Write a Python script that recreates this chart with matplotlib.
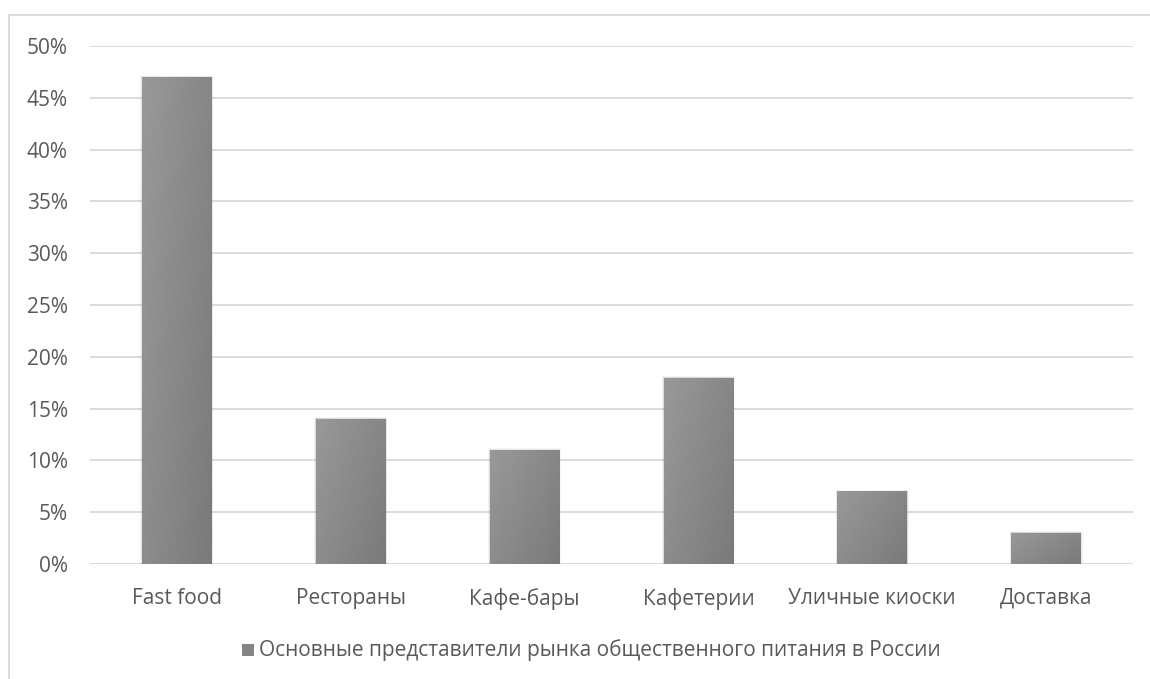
import numpy as np
import matplotlib
matplotlib.use('Agg')
import matplotlib.pyplot as plt
from matplotlib.patches import Rectangle
from matplotlib.ticker import FuncFormatter

categories = ['Fast food', 'Рестораны', 'Кафе-бары', 'Кафетерии',
              'Уличные киоски', 'Доставка']
shares = [47, 14, 11, 18, 7, 3]
series_name = 'Основные представители рынка общественного питания в России'
y_ticks = [0, 5, 10, 15, 20, 25, 30, 35, 40, 45, 50]

text_color = '#595959'
grid_color = '#d9d9d9'
plt.rcParams['font.family'] = ['Open Sans', 'DejaVu Sans']

fig = plt.figure(figsize=(11.5, 6.79), dpi=100)
ax = fig.add_axes([90 / 1150, 1 - 564 / 679, 1043 / 1150, 518 / 679])

# Outer chart frame (runs off the right and bottom edges)
frame = Rectangle((9 / 1150, -0.05), 1.2, 1 - 15 / 679 + 0.05,
                  transform=fig.transFigure, fill=False,
                  edgecolor=grid_color, linewidth=1.3, zorder=0)
fig.patches.append(frame)

x = np.arange(len(categories))
width = 0.40

# Grid
for t in y_ticks:
    ax.axhline(t, color=grid_color, linewidth=1.3, zorder=0)

# Gradient fill: lighter on the upper-left, darker lower-right
gx = np.linspace(0, 1, 64)
gy = np.linspace(0, 1, 256)
GX, GY = np.meshgrid(gx, gy)
grad = 0.6 * GX + 0.4 * GY
cmap = matplotlib.colors.LinearSegmentedColormap.from_list(
    'bar', ['#999999', '#7a7a7a'])

for xi, v in zip(x, shares):
    # soft shadow
    for k, a in zip([0.010, 0.006, 0.003], [0.04, 0.05, 0.06]):
        sh = Rectangle((xi - width / 2 - k, 0), width + 2 * k, v + k * 15,
                       facecolor='black', alpha=a, edgecolor='none', zorder=1)
        ax.add_patch(sh)
    bar = ax.bar(xi, v, width=width, color='#888888', linewidth=0, zorder=2)[0]
    im = ax.imshow(grad, cmap=cmap, aspect='auto', origin='upper',
                   extent=(xi - width / 2, xi + width / 2, 0, v), zorder=3)
    im.set_clip_path(bar)

ax.set_xlim(-0.5, len(categories) - 0.5)
ax.set_ylim(0, 50)

for s in ax.spines.values():
    s.set_visible(False)

ax.set_yticks(y_ticks)
ax.yaxis.set_major_formatter(FuncFormatter(lambda v, p: '%d%%' % v))
ax.set_xticks(x)
ax.set_xticklabels(categories)
ax.tick_params(axis='both', length=0, colors=text_color, labelsize=15)
ax.tick_params(axis='y', pad=16)
ax.tick_params(axis='x', pad=17)

# Legend
fig.patches.append(Rectangle((242 / 1150, 1 - 656 / 679), 12 / 1150, 12 / 679,
                             transform=fig.transFigure, facecolor='#848484',
                             edgecolor='none'))
fig.text(259 / 1150, 1 - 650 / 679, series_name, color=text_color,
         fontsize=15, va='center', ha='left')

fig.savefig('out.png', dpi=100, facecolor='white')
